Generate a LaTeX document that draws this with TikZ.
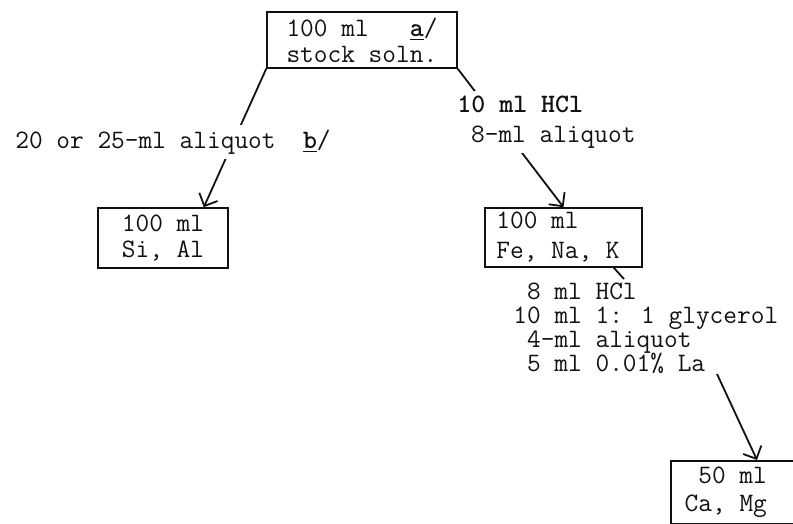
\documentclass[tikz,border=0pt]{standalone}
\usepackage{fontspec}
\usepackage{tikz}
\newcommand{\typed}[1]{\ttfamily\fontsize{13.3pt}{#1}\selectfont\lineskiplimit=-20pt\relax}
\newcommand{\fnmark}[1]{\underline{\textbf{#1}}/}
\usetikzlibrary{
arrows.meta,
positioning
}
\definecolor{TypeInk}{HTML}{111111}
\tikzset{
flaskbox/.style={draw=TypeInk, line width=0.8pt, text=TypeInk, inner sep=0pt,
  align=left, font=\typed{13pt}},
reagentnote/.style={text=TypeInk, align=left, inner xsep=0pt, inner ysep=2.5pt,
  font=\typed{12pt}},
crosslabel/.style={reagentnote, fill=white, font=\typed{15pt}},
transferarrow/.style={-{Straight Barb[length=5pt,width=10pt]}, line width=0.9pt, draw=TypeInk},
plainlink/.style={line width=0.9pt, draw=TypeInk}
}

\begin{document}
\begin{tikzpicture}[x=0.5pt,y=-0.5pt]
\clip (0,0) rectangle (793,524);
\node[flaskbox, minimum width=95pt, minimum height=28pt] (stock) at (362,40) {100 ml\phantom{000}\fnmark{a}\\stock soln.};
\node[flaskbox, minimum width=65pt, minimum height=30pt, align=center] (sial) at (163,238) {100 ml\\Si, Al};
\node[flaskbox, minimum width=78.5pt, minimum height=29.5pt, font=\typed{15pt}] (fenak) at (563.5,237.5) {100 ml\\Fe, Na, K\hspace*{5.5pt}};
\node[flaskbox, anchor=north west, minimum width=70pt, minimum height=31.5pt, font=\typed{14pt}] (camg) at (670,460) {\phantom{1}50 ml\\Ca, Mg\hspace*{15pt}};
\node[reagentnote, anchor=west] (reagents) at (513,328) {\phantom{1}8 ml HCl\\10 ml 1: 1 glycerol\\\phantom{1}4-ml aliquot\\\phantom{1}5 ml 0.01\% La};
\coordinate (hcltick) at (624,279);
\coordinate (laend) at (717,374);
\draw[transferarrow] (stock.south west) -- ([xshift=-12.5pt]sial.north east);
\draw[transferarrow] (stock.south east) -- (fenak.north);
\draw[plainlink] ([xshift=-14.5pt]fenak.south east) -- (hcltick);
\draw[transferarrow] (laend) -- ([xshift=43.5pt]camg.north west);
\node[crosslabel, anchor=west] (hclsplit) at (457,122) {\textbf{10 ml HCl}\\\phantom{1}8-ml aliquot};
\node[crosslabel, font=\typed{13pt}] (aliq) at (173,142) {20 or 25-ml aliquot\ \ \fnmark{b}};
\end{tikzpicture}
\end{document}
